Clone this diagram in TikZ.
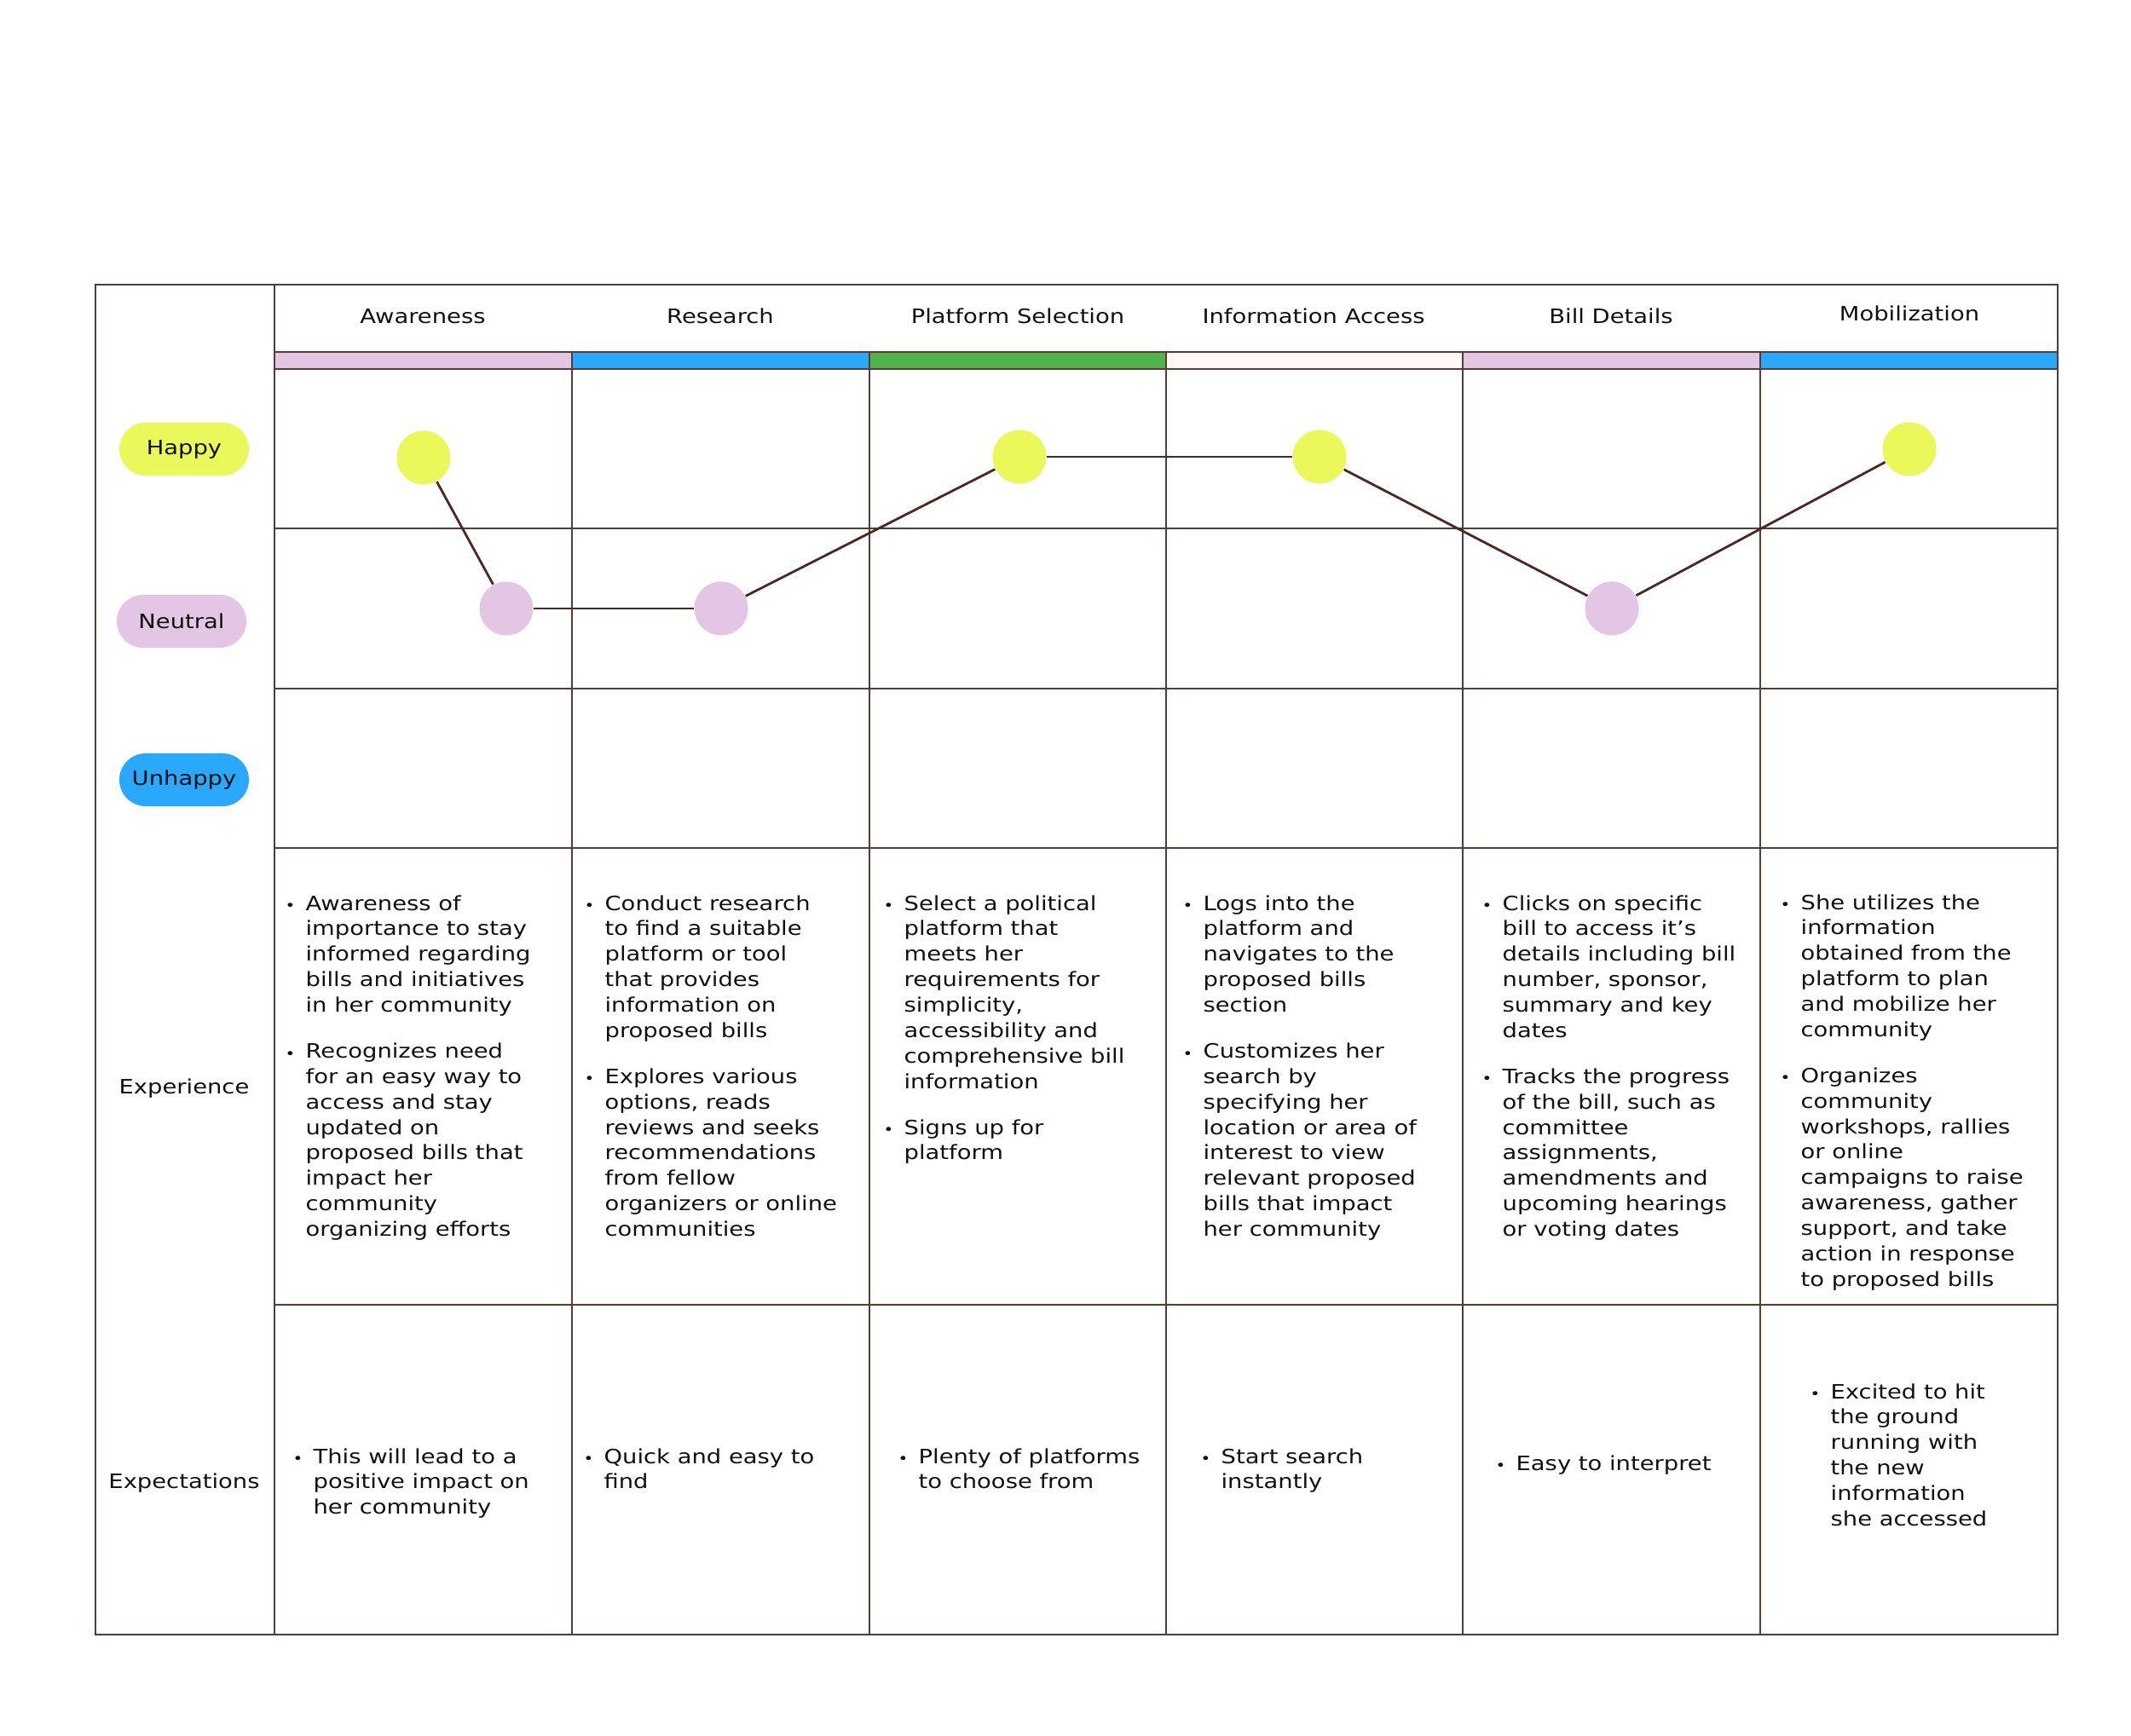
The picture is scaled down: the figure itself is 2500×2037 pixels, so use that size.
\documentclass[tikz,border=0pt]{standalone}
\usepackage{fontspec}
\setmainfont{DejaVu Sans}[FakeStretch=1.18]
\usepackage{tikz}
\definecolor{gridline}{HTML}{5A3B33}
\definecolor{pathline}{HTML}{4A2A20}
\definecolor{happyfill}{HTML}{EAF85A}
\definecolor{neutralfill}{HTML}{E2C6E3}
\definecolor{unhappyfill}{HTML}{2AA8FB}
\definecolor{greenfill}{HTML}{52B34A}
\definecolor{palefill}{HTML}{FDF8F6}
\definecolor{inkcolor}{HTML}{111111}
\newcommand{\cellfont}{\fontsize{6.6}{8.5}\selectfont}
\newcommand{\bul}{\makebox[6.8pt][l]{\raisebox{-0.2pt}{\fontsize{4.8}{4.8}\selectfont\textbullet}}}
\newcommand{\pts}[1]{\begin{tabular}[t]{@{}l@{}l@{}}#1\end{tabular}}

\begin{document}
\begin{tikzpicture}[
        x=0.01cm, y=-0.01cm,
        font=\cellfont,
        text=inkcolor,
        grid/.style={draw=gridline, line width=0.45pt},
        bar/.style={draw=gridline, line width=0.6pt},
        head/.style={anchor=base, inner sep=0pt},
        side/.style={anchor=base, inner sep=0pt},
        mood/.style={
            rectangle,
            rounded corners=0.31cm,
            minimum width=1.52cm,
            minimum height=0.62cm,
            inner sep=0pt
        },
        dot/.style={circle, minimum size=0.63cm, inner sep=0pt},
        cell/.style={anchor=base west, inner sep=0pt},
        journey/.style={draw=pathline, line width=0.8pt}
    ]
        \useasboundingbox (0,0) rectangle (2500,2037);

        % Grid
        \draw[grid] (112,334) rectangle (2414,1918);
        \draw[grid] (322,334) -- (322,413);
        \foreach \x in {322,671,1020,1368,1716,2065}
            \draw[grid] (\x,413) -- (\x,1918);
        \foreach \y in {620,808,995,1531}
            \draw[grid] (322,\y) -- (2414,\y);

        % Phase bars
        \foreach \xa/\xb/\fillc in {322/671/neutralfill, 671/1020/unhappyfill, 1020/1368/greenfill,
                1368/1716/palefill, 1716/2065/neutralfill, 2065/2414/unhappyfill}
            \draw[bar, fill=\fillc] (\xa,413) rectangle (\xb,433);

        % Phases
        \node[head] (h-aware) at (496,380) {Awareness};
        \node[head] (h-research) at (845,380) {Research};
        \node[head] (h-platform) at (1194,380) {Platform Selection};
        \node[head] (h-info) at (1541,380) {Information Access};
        \node[head] (h-bill) at (1890,380) {Bill Details};
        \node[head] (h-mobil) at (2240,377) {Mobilization};

        % Moods
        \node[mood, fill=happyfill] (m-happy) at (216,527) {Happy};
        \node[mood, fill=neutralfill] (m-neutral) at (213,729) {Neutral};
        \node[mood, fill=unhappyfill] (m-unhappy) at (216,915) {Unhappy};

        \node[side] (s-exp) at (216,1283) {Experience};
        \node[side] (s-expt) at (216,1746) {Expectations};

        % Journey
        \node[dot, fill=happyfill] (d-aware-h) at (497,537) {};
        \node[dot, fill=neutralfill] (d-aware-n) at (594,714) {};
        \node[dot, fill=neutralfill] (d-research) at (846,714) {};
        \node[dot, fill=happyfill] (d-platform) at (1196,536) {};
        \node[dot, fill=happyfill] (d-info) at (1548,536) {};
        \node[dot, fill=neutralfill] (d-bill) at (1891,714) {};
        \node[dot, fill=happyfill] (d-mobil) at (2240,527) {};

        \draw[journey] (d-aware-h) -- (d-aware-n);
        \draw[journey] (d-aware-n) -- (d-research);
        \draw[journey] (d-research) -- (d-platform);
        \draw[journey] (d-platform) -- (d-info);
        \draw[journey] (d-info) -- (d-bill);
        \draw[journey] (d-bill) -- (d-mobil);

        % Experience
        \node[cell] (x-aware) at (334,1068) {\pts{
            \bul & Awareness of\\ & importance to stay\\ & informed regarding\\
            & bills and initiatives\\ & in her community\\[6.8pt]
            \bul & Recognizes need\\ & for an easy way to\\ & access and stay\\ & updated on\\
            & proposed bills that\\ & impact her\\ & community\\ & organizing efforts}};
        \node[cell] (x-research) at (685,1068) {\pts{
            \bul & Conduct research\\ & to find a suitable\\ & platform or tool\\
            & that provides\\ & information on\\ & proposed bills\\[6.8pt]
            \bul & Explores various\\ & options, reads\\ & reviews and seeks\\
            & recommendations\\ & from fellow\\ & organizers or online\\ & communities}};
        \node[cell] (x-platform) at (1036,1068) {\pts{
            \bul & Select a political\\ & platform that\\ & meets her\\ & requirements for\\
            & simplicity,\\ & accessibility and\\ & comprehensive bill\\ & information\\[6.8pt]
            \bul & Signs up for\\ & platform}};
        \node[cell] (x-info) at (1387,1068) {\pts{
            \bul & Logs into the\\ & platform and\\ & navigates to the\\ & proposed bills\\
            & section\\[6.8pt]
            \bul & Customizes her\\ & search by\\ & specifying her\\ & location or area of\\
            & interest to view\\ & relevant proposed\\ & bills that impact\\ & her community}};
        \node[cell] (x-bill) at (1738,1068) {\pts{
            \bul & Clicks on specific\\ & bill to access it’s\\ & details including bill\\
            & number, sponsor,\\ & summary and key\\ & dates\\[6.8pt]
            \bul & Tracks the progress\\ & of the bill, such as\\ & committee\\ & assignments,\\
            & amendments and\\ & upcoming hearings\\ & or voting dates}};
        \node[cell] (x-mobil) at (2088,1067) {\pts{
            \bul & She utilizes the\\ & information\\ & obtained from the\\ & platform to plan\\
            & and mobilize her\\ & community\\[6.8pt]
            \bul & Organizes\\ & community\\ & workshops, rallies\\ & or online\\
            & campaigns to raise\\ & awareness, gather\\ & support, and take\\
            & action in response\\ & to proposed bills}};

        % Expectations
        \node[cell] (e-aware) at (343,1717) {\pts{
            \bul & This will lead to a\\ & positive impact on\\ & her community}};
        \node[cell] (e-research) at (684,1717) {\pts{
            \bul & Quick and easy to\\ & find}};
        \node[cell] (e-platform) at (1053,1717) {\pts{
            \bul & Plenty of platforms\\ & to choose from}};
        \node[cell] (e-info) at (1408,1717) {\pts{
            \bul & Start search\\ & instantly}};
        \node[cell] (e-bill) at (1754,1725) {\pts{
            \bul & Easy to interpret}};
        \node[cell] (e-mobil) at (2123,1641) {\pts{
            \bul & Excited to hit\\ & the ground\\ & running with\\ & the new\\
            & information\\ & she accessed}};

    \end{tikzpicture}
\end{document}
